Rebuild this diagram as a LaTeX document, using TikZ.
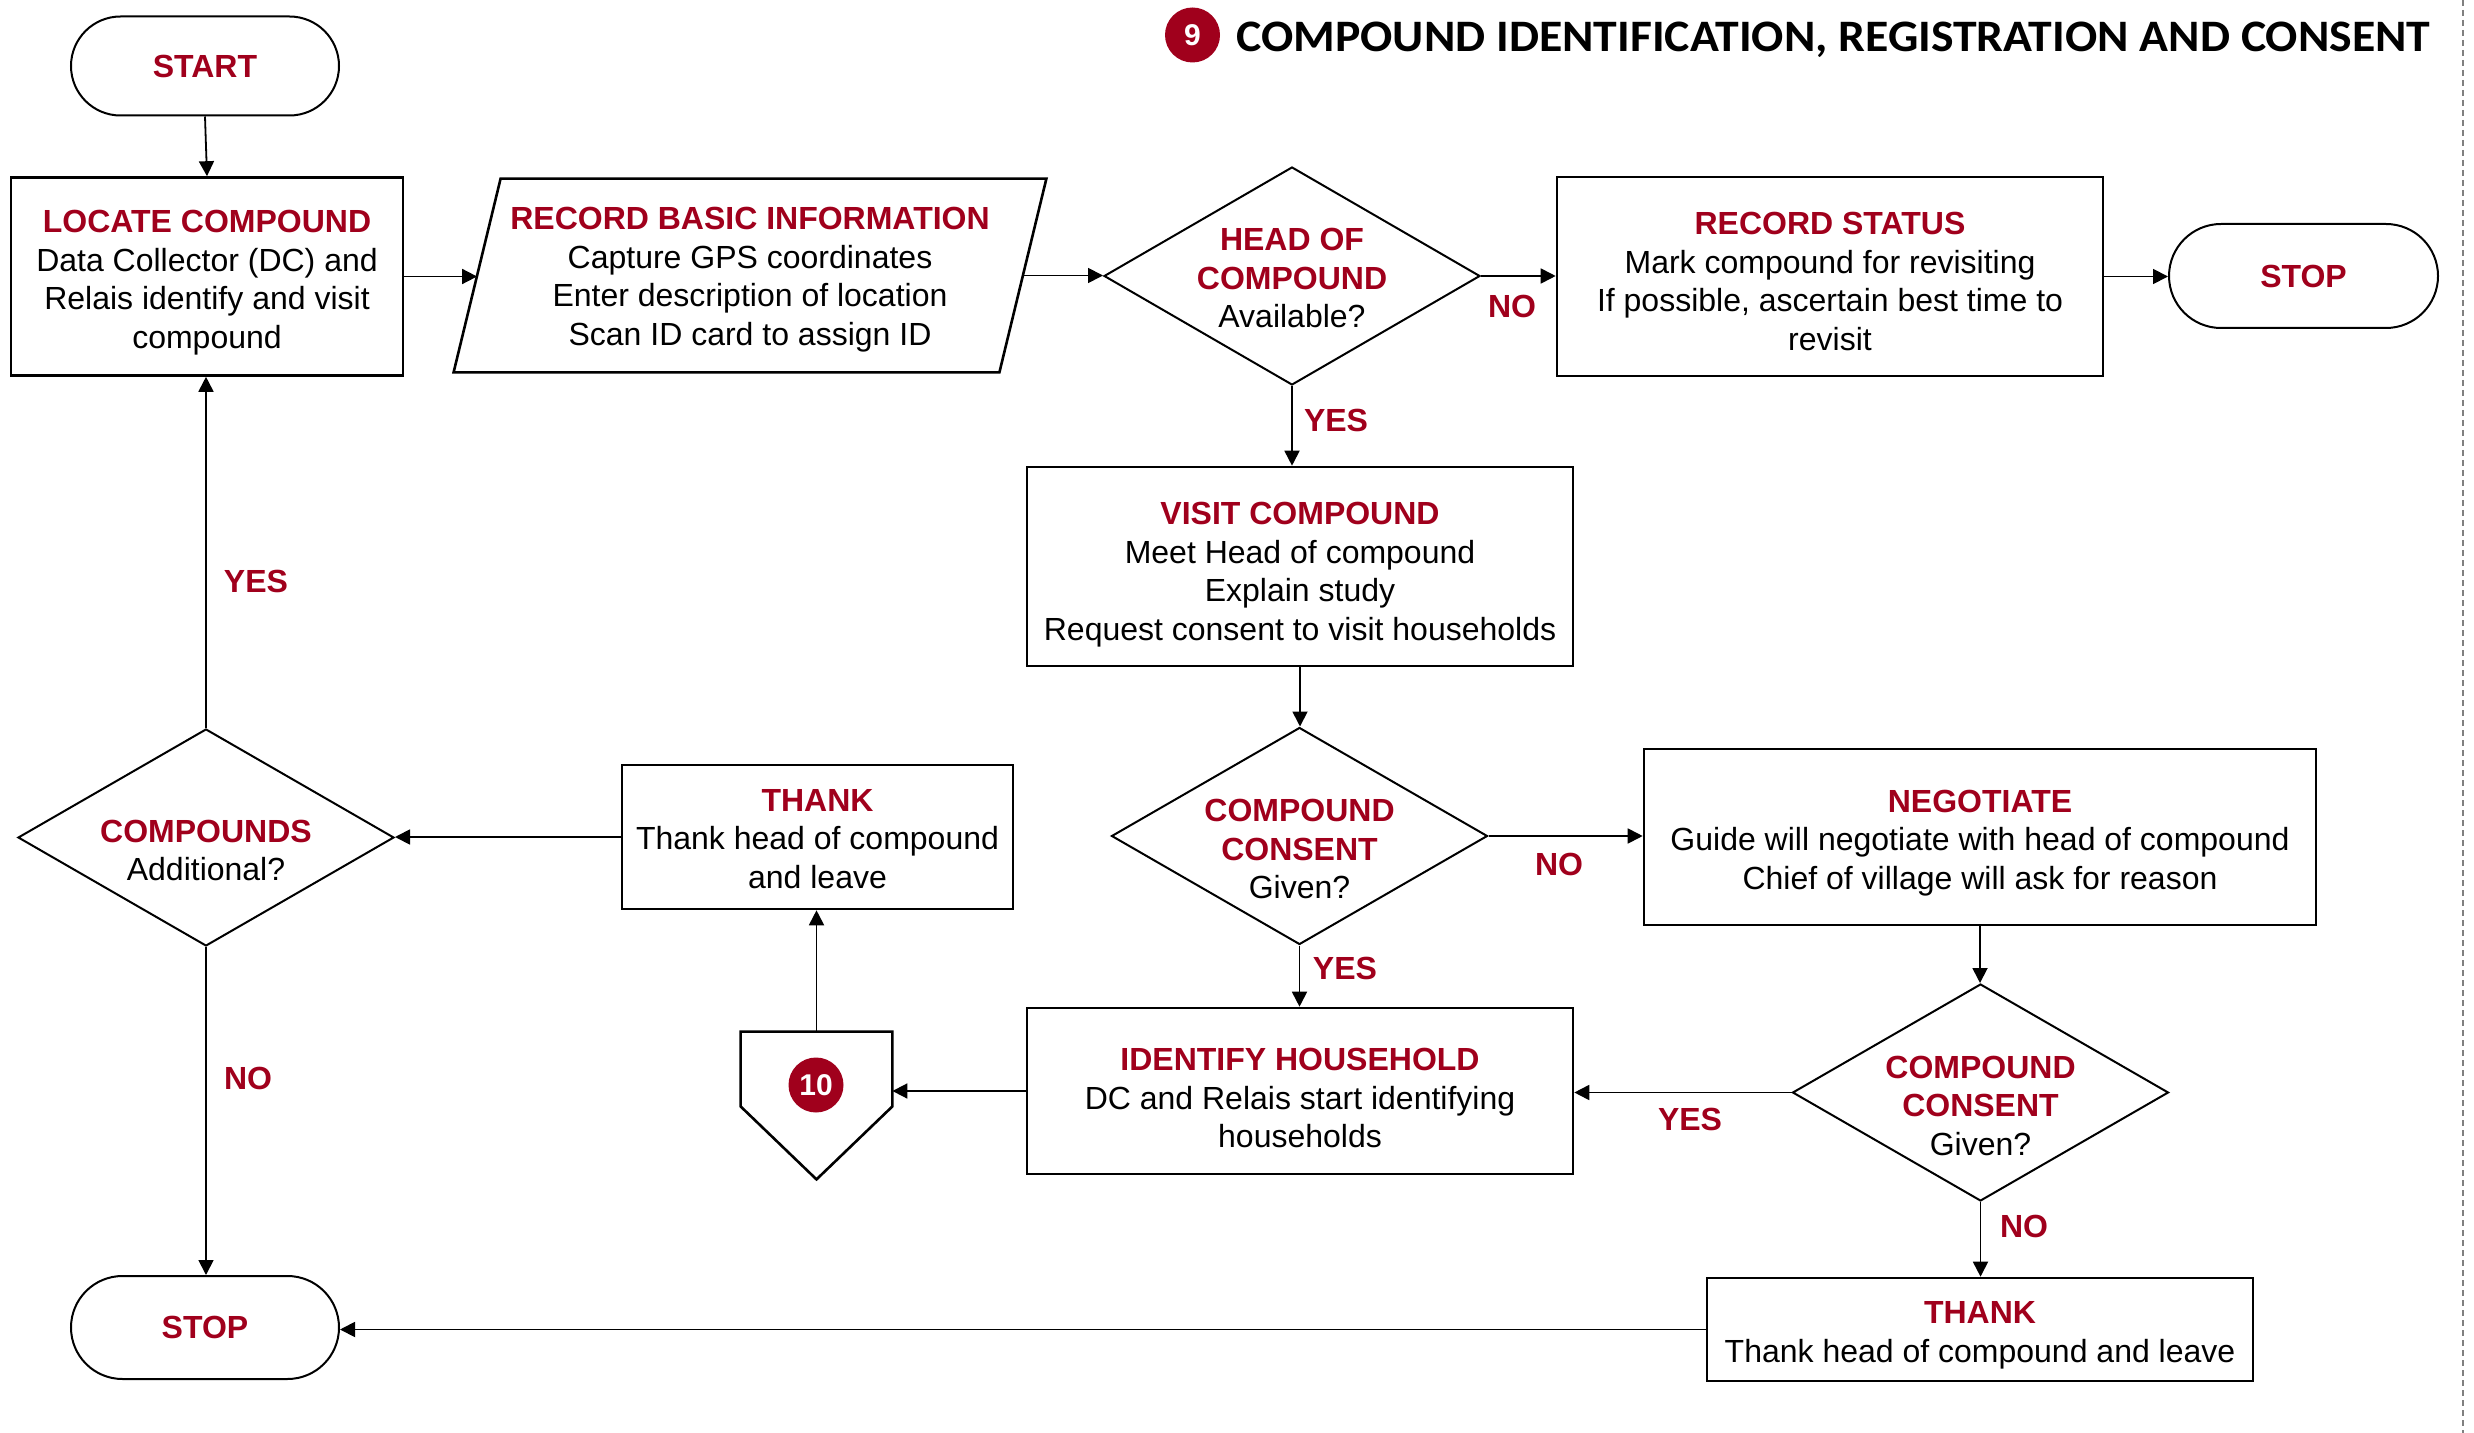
\documentclass[tikz,border=0pt]{standalone}
\usepackage{fontspec}
\setmainfont{Liberation Sans}
\newfontfamily\titlefont{Carlito}
\usetikzlibrary{arrows.meta,calc,shapes.geometric,shapes.misc}
\definecolor{dred}{RGB}{160,0,28}
\newcommand{\hdr}[1]{{\color{dred}\bfseries #1}}
\begin{document}
\begin{tikzpicture}[x=0.5pt,y=-0.5pt,
  every node/.style={font=\fontsize{16}{19.25}\selectfont, align=center, inner sep=0pt},
  box/.style={draw, line width=1.3pt, rectangle},
  term/.style={draw, line width=1pt, rounded rectangle, font=\fontsize{16}{19.25}\selectfont\bfseries, text=dred},
  dec/.style={draw, line width=1pt, diamond, aspect=1.72, minimum width=188pt, minimum height=108.5pt},
  conn/.style={line width=0.9pt, -{Triangle[length=7.5pt,width=7.5pt]}},
  lbl/.style={text=dred, font=\fontsize{16}{19.25}\selectfont\bfseries},
  badge/.style={circle, fill=dred, minimum size=27.5pt, text=white, font=\fontsize{15}{18}\selectfont\bfseries},
]
\useasboundingbox (0,0) rectangle (2474,1433);

% title
\node[badge] (b9) at (1192.5,35) {9};
\node[anchor=base west] (title) at (1236,52) {\resizebox{597pt}{\height}{\titlefont\bfseries\fontsize{22.5}{27}\selectfont COMPOUND IDENTIFICATION, REGISTRATION AND CONSENT}};
\draw[gray, line width=0.8pt, dash pattern=on 3pt off 2pt] (2463,0) -- (2463,1433);

% shapes
\node[term, minimum width=134pt, minimum height=49.5pt] (start) at (205,66) {START};
\node[box, minimum width=196pt, minimum height=99pt] (locate) at (207,276.5) {};
\node[minimum width=272.5pt, minimum height=96.5pt] (rec) at (750,275.5) {};
\draw[line width=1.3pt] ([xshift=-11.75pt]rec.south west) -- ([xshift=11.75pt]rec.north west) -- ([xshift=11.75pt]rec.north east) -- ([xshift=-11.75pt]rec.south east) -- cycle;
\node[dec, minimum height=109pt] (head) at (1292,276) {};
\node[box, minimum width=273pt, minimum height=99.5pt] (status) at (1830,276.5) {};
\node[term, minimum width=134.5pt, minimum height=52pt] (stop1) at (2303.5,276) {STOP};
\node[box, minimum width=273pt, minimum height=99.5pt] (visit) at (1300,566.5) {};
\node[dec] (consent1) at (1299.5,836) {};
\node[box, minimum width=336pt, minimum height=88pt] (negotiate) at (1980,837) {};
\node[dec] (consent2) at (1980.5,1092.5) {};
\node[box, minimum width=273pt, minimum height=83pt] (identify) at (1300,1091) {};
\node[minimum width=75.5pt, minimum height=37pt] (c10) at (816.5,1069) {};
\draw[line width=1.3pt] (c10.north west) -- (c10.north east) -- (c10.south east) -- ($(c10.south)+(0,73)$) -- (c10.south west) -- cycle;
\node[badge] (n10) at (816,1085) {10};
\node[box, minimum width=195.5pt, minimum height=72pt] (thank1) at (817.5,837) {};
\node[dec] (compounds) at (206,837.5) {};
\node[term, minimum width=134pt, minimum height=51.5pt] (stop2) at (205,1327.5) {STOP};
\node[box, minimum width=273pt, minimum height=51.5pt] (thank2) at (1980,1329.5) {};

% texts
\node (locate-t) at ([yshift=-3pt]locate.center) {\hdr{LOCATE COMPOUND}\\Data Collector (DC) and\\Relais identify and visit\\compound};
\node (rec-t) at ([yshift=-2pt]rec.center) {\hdr{RECORD BASIC INFORMATION}\\Capture GPS coordinates\\Enter description of location\\Scan ID card to assign ID};
\node (head-t) at ([yshift=-1pt]head.center) {\hdr{HEAD OF}\\\hdr{COMPOUND}\\Available?};
\node (status-t) at ([yshift=-2.5pt]status.center) {\hdr{RECORD STATUS}\\Mark compound for revisiting\\If possible, ascertain best time to\\revisit};
\node (visit-t) at ([yshift=-4pt]visit.center) {\hdr{VISIT COMPOUND}\\Meet Head of compound\\Explain study\\Request consent to visit households};
\node (consent1-t) at ([yshift=-6.5pt]consent1.center) {\hdr{COMPOUND}\\\hdr{CONSENT}\\Given?};
\node (negotiate-t) at ([yshift=-3pt]negotiate.center) {\hdr{NEGOTIATE}\\Guide will negotiate with head of compound\\Chief of village will ask for reason};
\node (consent2-t) at ([yshift=-6.5pt]consent2.center) {\hdr{COMPOUND}\\\hdr{CONSENT}\\Given?};
\node (identify-t) at ([yshift=-3.5pt]identify.center) {\hdr{IDENTIFY HOUSEHOLD}\\DC and Relais start identifying\\households};
\node (thank1-t) at ([yshift=-1pt]thank1.center) {\hdr{THANK}\\Thank head of compound\\and leave};
\node (compounds-t) at ([yshift=-6.5pt]compounds.center) {\hdr{COMPOUNDS}\\Additional?};
\node (thank2-t) at ([yshift=-3pt]thank2.center) {\hdr{THANK}\\Thank head of compound and leave};

% connectors
\draw[conn] (start.south) -- (locate.north);
\draw[conn] (locate.east) -- (locate.east -| rec.west);
\draw[conn] (rec.east) -- (rec.east -| head.west);
\draw[conn] (head.east) -- (head.east -| status.west);
\draw[conn] (status.east) -- (status.east -| stop1.west);
\draw[conn] (head.south) -- (head.south |- visit.north);
\draw[conn] (visit.south) -- (visit.south |- consent1.north);
\draw[conn] (consent1.east) -- (consent1.east -| negotiate.west);
\draw[conn] (consent1.south) -- (consent1.south |- identify.north);
\draw[conn] (negotiate.south) -- (negotiate.south |- consent2.north);
\draw[conn] (consent2.west) -- (consent2.west -| identify.east);
\draw[conn] (consent2.south) -- (consent2.south |- thank2.north);
\draw[conn] (thank2.west) -- (thank2.west -| stop2.east);
\draw[conn] (identify.west) -- (identify.west -| c10.east);
\draw[conn] (c10.north) -- (c10.north |- thank1.south);
\draw[conn] (thank1.west) -- (thank1.west -| compounds.east);
\draw[conn] (compounds.north) -- (compounds.north |- locate.south);
\draw[conn] (compounds.south) -- (compounds.south |- stop2.north);

% labels
\node[lbl] (l1) at (1512,306) {NO};
\node[lbl] (l2) at (1336,420) {YES};
\node[lbl] (l3) at (1559,864) {NO};
\node[lbl] (l4) at (1345,968) {YES};
\node[lbl] (l5) at (1690,1119) {YES};
\node[lbl] (l6) at (2024,1226) {NO};
\node[lbl] (l7) at (256,581) {YES};
\node[lbl] (l8) at (248,1078) {NO};
\end{tikzpicture}
\end{document}
